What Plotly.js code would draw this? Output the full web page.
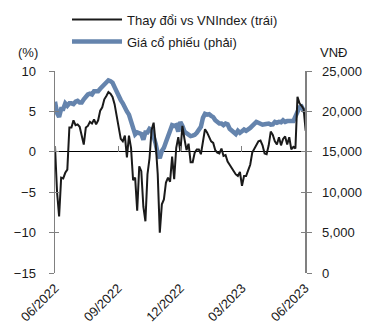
<!DOCTYPE html>
<html>
<head>
<meta charset="utf-8">
<script src="https://cdn.plot.ly/plotly-3.0.1.min.js"></script>
<style>
  html, body { margin: 0; padding: 0; background: #fff; }
  #chart { width: 377px; height: 332px; }
</style>
</head>
<body>
<div id="chart"></div>
<script>
// Trading dates (sampled every few sessions)
const dates = [
  '2022-06-01','2022-06-04','2022-06-07','2022-06-10','2022-06-13','2022-06-16','2022-06-19','2022-06-22','2022-06-25','2022-06-28',
  '2022-07-01','2022-07-04','2022-07-07','2022-07-10','2022-07-13','2022-07-16','2022-07-19','2022-07-22','2022-07-25','2022-07-28',
  '2022-07-31','2022-08-03','2022-08-06','2022-08-09','2022-08-12','2022-08-15','2022-08-18','2022-08-21','2022-08-24','2022-08-27',
  '2022-08-30','2022-09-02','2022-09-05','2022-09-08','2022-09-11','2022-09-14','2022-09-17','2022-09-20','2022-09-23','2022-09-26',
  '2022-09-29','2022-10-02','2022-10-05','2022-10-08','2022-10-11','2022-10-14','2022-10-17','2022-10-20','2022-10-23','2022-10-26',
  '2022-10-29','2022-11-01','2022-11-04','2022-11-07','2022-11-10','2022-11-13','2022-11-16','2022-11-19','2022-11-22','2022-11-25',
  '2022-11-28','2022-12-01','2022-12-04','2022-12-07','2022-12-10','2022-12-13','2022-12-16','2022-12-19','2022-12-22','2022-12-25',
  '2022-12-28','2022-12-31','2023-01-03','2023-01-06','2023-01-09','2023-01-12','2023-01-15','2023-01-18','2023-01-21','2023-01-24',
  '2023-01-27','2023-01-30','2023-02-02','2023-02-05','2023-02-08','2023-02-11','2023-02-14','2023-02-17','2023-02-20','2023-02-23',
  '2023-02-26','2023-03-01','2023-03-04','2023-03-07','2023-03-10','2023-03-13','2023-03-16','2023-03-19','2023-03-22','2023-03-25',
  '2023-03-28','2023-03-31','2023-04-03','2023-04-06','2023-04-09','2023-04-12','2023-04-15','2023-04-18','2023-04-21','2023-04-24',
  '2023-04-27','2023-04-30','2023-05-03','2023-05-06','2023-05-09','2023-05-12','2023-05-15','2023-05-18','2023-05-21','2023-05-24',
  '2023-05-27','2023-05-30','2023-06-02'
];

// Relative performance vs VNIndex, % (left axis)
const vsVNIndex = [
  0.7, -5.0, -8.0, -3.2, -3.3, -2.6, -2.2, 3.0, 3.0, 3.9,
  3.3, 3.4, 3.1, 2.1, 0.9, 3.0, 3.2, 3.7, 3.5, 4.0,
  3.4, 3.9, 5.1, 5.5, 6.5, 6.9, 7.4, 7.2, 6.8, 5.9,
  4.5, 3.0, 1.6, 1.3, 2.0, -0.7, 2.0, 0.5, -3.5, -3.2,
  -7.3, -1.8, -2.4, -6.8, -8.6, -2.8, -0.8, 2.7, 3.6, 1.0,
  -2.8, -10.0, -6.5, -5.9, -3.8, -3.2, -3.7, -0.6, -3.4, 0.5,
  1.8, 0.0, 3.2, 1.6, 0.2, 1.0, -1.3, -1.3, -0.1, 0.3,
  0.3, -0.3, 1.5, 2.8, 2.4, 1.9, 1.3, 1.1, 0.2, -0.1,
  -0.2, 0.4, -0.5, -0.4, -1.2, -1.6, -2.1, -2.4, -2.8, -3.0,
  -2.5, -4.2, -3.0, -3.0, -2.3, -1.6, -0.1, 0.4, 0.8, 1.3,
  1.4, 0.8, -0.2, -0.3, 0.8, 2.5, 2.1, 1.3, 0.9, 1.8,
  0.8, 1.6, 1.9, 0.9, 1.8, 0.3, 0.6, 0.4, 6.8, 6.0,
  5.7, 5.3, 2.6
];

// Share price, VND (right axis)
const sharePrice = [
  21200, 19800, 19300, 20300, 20300, 21000, 20700, 21000, 21000, 20900,
  21200, 21300, 21100, 21100, 21500, 21900, 22100, 22200, 22100, 22500,
  22500, 22500, 22800, 23100, 23400, 23600, 23850, 23750, 23550, 23000,
  22400, 21800, 21400, 21000, 20400, 20000, 19600, 18800, 17950, 17150,
  17400, 17300, 17200, 16500, 17400, 17400, 17850, 17700, 17000, 16000,
  14800, 14200, 15100, 15500, 16200, 16900, 17400, 18300, 18200, 18300,
  17500, 18700, 18200, 17500, 17300, 17100, 16950, 17000, 17100, 17350,
  17650, 18100, 19200, 19700, 19600, 19650, 19450, 19300, 18900, 18650,
  18500, 18500, 18300, 18500, 18400, 17850, 17600, 17350, 17200, 17600,
  17350, 17550, 17750, 17600, 17700, 17950, 18200, 18500, 18700, 18600,
  18500, 18350, 18400, 18500, 18500, 18350, 18400, 18700, 18600, 18700,
  18650, 18900, 18700, 18800, 18850, 18800, 18800, 19300, 20100, 20500,
  20600, 20100, 20000
];

const tickDates = ['2022-06-01','2022-09-01','2022-12-01','2023-03-01','2023-06-01'];
const tickLabels = ['06/2022','09/2022','12/2022','03/2023','06/2023'];

const FONT = 'Liberation Sans, Arial, sans-serif';
const AXIS_GREY = '#808080';
const xRange = ['2022-06-01', '2023-06-01'];
const pctRange = [-15, 10];
const vndRange = [0, 25000];

const traces = [
  {
    name: 'Thay đổi vs VNIndex (trái)',
    x: dates, y: vsVNIndex,
    xaxis: 'x', yaxis: 'y2',
    type: 'scatter', mode: 'lines',
    line: { color: '#1a1a1a', width: 2 },
    legend: 'legend'
  },
  {
    name: 'Giá cổ phiếu (phải)',
    x: dates, y: sharePrice,
    xaxis: 'x', yaxis: 'y',
    type: 'scatter', mode: 'lines',
    line: { color: '#6584ad', width: 4.5 },
    legend: 'legend2'
  },
  // empty carriers so the extra tick-mark axes get drawn
  { x: [], y: [], xaxis: 'x2', yaxis: 'y3', type: 'scatter', mode: 'lines', showlegend: false, hoverinfo: 'skip' },
  { x: [], y: [], xaxis: 'x', yaxis: 'y4', type: 'scatter', mode: 'lines', showlegend: false, hoverinfo: 'skip' }
];

const legendBase = {
  xanchor: 'left', yanchor: 'middle',
  bgcolor: 'rgba(0,0,0,0)',
  font: { family: FONT, size: 13, color: '#1a1a1a' },
  itemwidth: 50,
  itemclick: false, itemdoubleclick: false
};

const tickFont = { family: FONT, size: 13, color: '#1a1a1a' };

const layout = {
  width: 377, height: 332,
  margin: { l: 55, r: 72, t: 71, b: 59, autoexpand: false },
  paper_bgcolor: '#fff', plot_bgcolor: '#fff',
  font: { family: FONT, size: 13, color: '#1a1a1a' },
  showlegend: true,
  legend: Object.assign({ x: 0.048, y: 1.255 }, legendBase),
  legend2: Object.assign({ x: 0.048, y: 1.146 }, legendBase),
  xaxis: {
    type: 'date', range: xRange,
    tickvals: tickDates, ticktext: tickLabels,
    tickangle: -45, ticks: '', showline: false, showgrid: false, zeroline: false,
    tickfont: tickFont,
    ticklabelstandoff: 4,
    anchor: 'y'
  },
  // tick marks sitting on the zero line
  xaxis2: {
    type: 'date', range: xRange, overlaying: 'x',
    tickvals: tickDates, showticklabels: false,
    anchor: 'free', position: 0.599, side: 'top',
    ticks: 'outside', ticklen: 6, tickcolor: AXIS_GREY, tickwidth: 1,
    showline: false, showgrid: false, zeroline: false
  },
  // share price (right)
  yaxis: {
    range: vndRange, dtick: 5000, tickformat: ',d',
    side: 'right', anchor: 'x',
    showline: true, linecolor: AXIS_GREY, linewidth: 1.5,
    ticks: 'outside', ticklen: 5, tickcolor: AXIS_GREY,
    showgrid: false, zeroline: false,
    ticklabelstandoff: 8,
    tickfont: tickFont
  },
  // relative change (left)
  yaxis2: {
    range: pctRange, dtick: 5,
    side: 'left', overlaying: 'y', anchor: 'x',
    showline: true, linecolor: AXIS_GREY, linewidth: 1.5,
    ticks: 'outside', ticklen: 5, tickcolor: AXIS_GREY,
    showgrid: false, zeroline: true, zerolinecolor: '#000', zerolinewidth: 1,
    ticklabelstandoff: 10,
    tickfont: tickFont
  },
  // inner halves of the crossing tick marks
  yaxis3: {
    range: pctRange, dtick: 5, side: 'left', overlaying: 'y', anchor: 'x2',
    ticks: 'inside', ticklen: 4, tickcolor: AXIS_GREY,
    showticklabels: false, showline: false, showgrid: false, zeroline: false
  },
  yaxis4: {
    range: vndRange, dtick: 5000, side: 'right', overlaying: 'y', anchor: 'x',
    ticks: 'inside', ticklen: 4, tickcolor: AXIS_GREY,
    showticklabels: false, showline: false, showgrid: false, zeroline: false
  },
  annotations: [
    { text: '(%)', xref: 'paper', yref: 'paper', x: -0.11, y: 1.09, xanchor: 'center', yanchor: 'middle',
      showarrow: false, font: tickFont },
    { text: 'VNĐ', xref: 'paper', yref: 'paper', x: 1.112, y: 1.09, xanchor: 'center', yanchor: 'middle',
      showarrow: false, font: tickFont }
  ]
};

Plotly.newPlot('chart', traces, layout, { displayModeBar: false, staticPlot: true });
</script>
</body>
</html>
